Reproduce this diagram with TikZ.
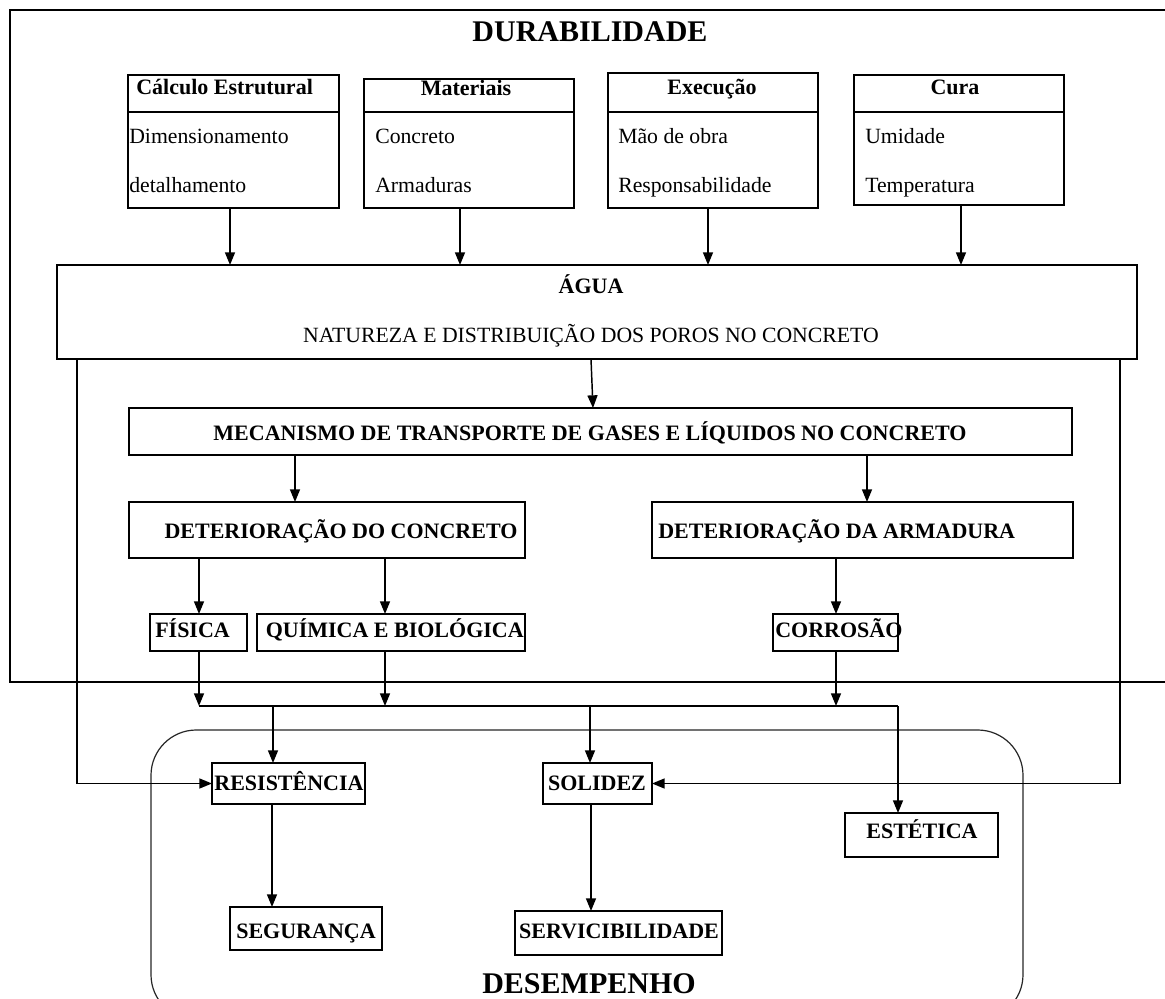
\documentclass[tikz,border=0pt]{standalone}
\usepackage{fontspec}
\setmainfont{Liberation Serif}
\usetikzlibrary{arrows.meta,fit}
\newcommand{\dbox}[6][]{\path (#3,#4) coordinate (#2-nw) (#5,#6) coordinate (#2-se);
  \node[bx,fit=(#2-nw)(#2-se),#1] (#2) {};}
\tikzset{
  ln/.style={line width=1.1pt},
  bx/.style={draw,line width=1.1pt,inner sep=0pt,outer sep=0pt},
  arr/.style={line width=1.1pt,-{Triangle[length=9.5pt,width=7.5pt]}},
  tx/.style={inner sep=0pt,font=\fontsize{16.3}{19}\selectfont},
  bt/.style={inner sep=0pt,font=\fontsize{16.5}{19}\selectfont\bfseries},
  big/.style={inner sep=0pt,font=\fontsize{22.5}{26}\selectfont\bfseries},
}
\begin{document}
\begin{tikzpicture}[x=0.75pt,y=-0.75pt]
\useasboundingbox (0,0) rectangle (1165,999);
\clip (0,0) rectangle (1165,999);
% outer DURABILIDADE frame
\draw[ln] (1200,10) -- (10,10) -- (10,682) -- (1200,682);
\node[big,anchor=base] (tdur) at (590,42) {DURABILIDADE};
% top boxes
\dbox{calc}{128}{75}{339}{208}
\dbox{mat}{364}{79}{574}{208}
\dbox{exe}{608}{73}{818}{208}
\dbox{cura}{854}{75}{1064}{205}
\foreach \b in {calc,mat,exe,cura}{\draw[ln] (\b.west |- 0,112) -- (\b.east |- 0,112);}
\node[bt,anchor=base west] (h1) at (136,95) {Cálculo Estrutural};
\node[bt,anchor=base] (h2) at (466,96) {Materiais};
\node[bt,anchor=base] (h3) at (712,95) {Execução};
\node[bt,anchor=base] (h4) at (955,95) {Cura};
\node[tx,anchor=base west] (c1) at (129,144) {Dimensionamento};
\node[tx,anchor=base west] (c2) at (129,192) {detalhamento};
\node[tx,anchor=base west] (m1) at (375,144) {Concreto};
\node[tx,anchor=base west] (m2) at (375,192) {Armaduras};
\node[tx,anchor=base west] (e1) at (618,144) {Mão de obra};
\node[tx,anchor=base west] (e2) at (618,192) {Responsabilidade};
\node[tx,anchor=base west] (u1) at (865,144) {Umidade};
\node[tx,anchor=base west] (u2) at (865,192) {Temperatura};
% AGUA
\dbox{agua}{57}{265}{1137}{359}
\node[bt,anchor=base] (ta) at (591,293) {ÁGUA};
\node[tx,anchor=base] (tn) at (591,342) {NATUREZA E DISTRIBUIÇÃO DOS POROS NO CONCRETO};
\draw[arr] (230,0 |- calc.south) -- (230,0 |- agua.north);
\draw[arr] (460,0 |- mat.south) -- (460,0 |- agua.north);
\draw[arr] (708,0 |- exe.south) -- (708,0 |- agua.north);
\draw[arr] (961,0 |- cura.south) -- (961,0 |- agua.north);
% MECANISMO
\dbox{mec}{129}{408}{1072}{455}
\node[bt,anchor=base] (tm) at (590,440) {MECANISMO DE TRANSPORTE DE GASES E LÍQUIDOS NO CONCRETO};
\draw[arr] (591,0 |- agua.south) -- (593,0 |- mec.north);
% deterioration
\dbox{detc}{129}{502}{525}{558}
\dbox{deta}{652}{502}{1073}{558}
\node[bt,anchor=base] (tdc) at (341,538) {DETERIORAÇÃO DO CONCRETO};
\node[bt,anchor=base west] (tda) at (658,538) {DETERIORAÇÃO DA ARMADURA};
\draw[arr] (295,0 |- mec.south) -- (295,0 |- detc.north);
\draw[arr] (867,0 |- mec.south) -- (867,0 |- deta.north);
\dbox{fis}{150}{614}{247}{651}
\dbox{qui}{257}{614}{525}{651}
\dbox{cor}{773}{614}{898}{651}
\node[bt,anchor=base west] (tf) at (155,637) {FÍSICA};
\node[bt,anchor=base east] (tq) at (524,637) {QUÍMICA E BIOLÓGICA};
\node[bt,anchor=base west] (tc) at (775,637) {CORROSÃO};
\draw[arr] (199,0 |- detc.south) -- (199,0 |- fis.north);
\draw[arr] (385,0 |- detc.south) -- (385,0 |- qui.north);
\draw[arr] (836,0 |- deta.south) -- (836,0 |- cor.north);
% junction
\coordinate (jl) at (199,706);
\coordinate (jr) at (898,706);
\draw[ln] (jl) -- (jr);
\draw[arr] (199,0 |- fis.south) -- (jl);
\draw[arr] (385,0 |- qui.south) -- (385,0 |- jl);
\draw[arr] (836,0 |- cor.south) -- (836,0 |- jl);
% DESEMPENHO
\draw[line width=0.9pt,black!85,rounded corners=34pt] (151,730) rectangle (1023,1020);
\node[big,anchor=base] (tdes) at (589,993) {DESEMPENHO};
\dbox{res}{212}{763}{365}{804}
\dbox{sol}{543}{763}{652}{804}
\dbox{est}{845}{813}{998}{857}
\dbox{seg}{230}{907}{382}{950}
\dbox{serv}{515}{911}{722}{955}
\node[bt,anchor=base] (tr) at (289,790) {RESISTÊNCIA};
\node[bt,anchor=base] (ts) at (597,790) {SOLIDEZ};
\node[bt,anchor=base] (te) at (922,838) {ESTÉTICA};
\node[bt,anchor=base] (tg) at (306,938) {SEGURANÇA};
\node[bt,anchor=base] (tv) at (619,938) {SERVICIBILIDADE};
\draw[arr] (273,0 |- jl) -- (273,0 |- res.north);
\draw[arr] (590,0 |- jl) -- (590,0 |- sol.north);
\draw[arr] (jr) -- (898,0 |- est.north);
\draw[arr] (272,0 |- res.south) -- (272,0 |- seg.north);
\draw[arr] (591,0 |- sol.south) -- (591,0 |- serv.north);
% side feedback lines
\draw[arr] (77,0 |- agua.south) |- (res.west);
\draw[arr] (1120,0 |- agua.south) |- (sol.east);
\end{tikzpicture}
\end{document}
